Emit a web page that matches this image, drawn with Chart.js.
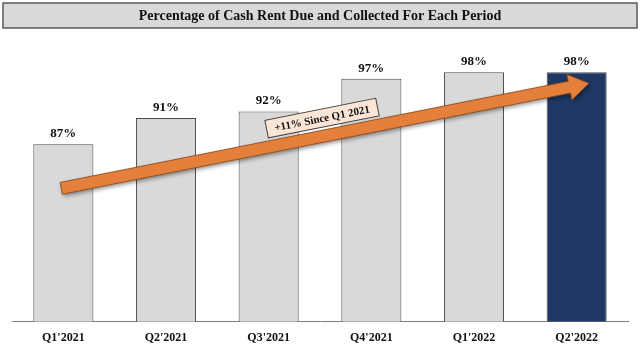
<!DOCTYPE html>
<html>
<head>
<meta charset="utf-8">
<script src="https://cdn.jsdelivr.net/npm/chart.js@4/dist/chart.umd.min.js"></script>
<style>
  html, body { margin: 0; padding: 0; background: #fff; }
  #wrap { width: 640px; height: 349px; position: relative; }
</style>
</head>
<body>
<div id="wrap"><canvas id="chart"></canvas></div>
<script>
const titleText = 'Percentage of Cash Rent Due and Collected For Each Period';
const periods = ["Q1'2021", "Q2'2021", "Q3'2021", "Q4'2021", "Q1'2022", "Q2'2022"];
const collected = [87, 91, 92, 97, 98, 98];
const barColors = ['#d9d9d9', '#d9d9d9', '#d9d9d9', '#d9d9d9', '#d9d9d9', '#1f3864'];

// trend arrow: [category index, value] for tail and tip
const arrowFrom = [-0.02, 80.3];
const arrowTo = [5.12, 96.3];
const arrowText = '+11% Since Q1 2021';
const arrowTextAt = [2.52, 91];

const serif = '"Liberation Serif", "DejaVu Serif", serif';

const titleBox = {
  id: 'titleBox',
  beforeDraw (chart) {
    const ctx = chart.ctx;
    ctx.save();
    ctx.fillStyle = '#d9d9d9';
    ctx.fillRect(3, 3, 634, 25);
    ctx.strokeStyle = '#595959';
    ctx.lineWidth = 1.5;
    ctx.strokeRect(3, 3, 634, 25);
    ctx.fillStyle = '#111';
    ctx.font = 'bold 14px ' + serif;
    ctx.textAlign = 'center';
    ctx.textBaseline = 'middle';
    ctx.fillText(titleText, 320, 16);
    ctx.restore();
  }
};

const barLabels = {
  id: 'barLabels',
  afterDatasetsDraw (chart) {
    const ctx = chart.ctx;
    const meta = chart.getDatasetMeta(0);
    ctx.save();
    ctx.fillStyle = '#111';
    ctx.font = 'bold 13px ' + serif;
    ctx.textAlign = 'center';
    ctx.textBaseline = 'bottom';
    meta.data.forEach((bar, i) => {
      ctx.fillText(collected[i] + '%', bar.x, bar.y - 4);
    });
    ctx.restore();
  }
};

const trendArrow = {
  id: 'trendArrow',
  afterDatasetsDraw (chart) {
    const ctx = chart.ctx;
    const xs = chart.scales.x, ys = chart.scales.y;
    const x1 = xs.getPixelForValue(arrowFrom[0]), y1 = ys.getPixelForValue(arrowFrom[1]);
    const x2 = xs.getPixelForValue(arrowTo[0]), y2 = ys.getPixelForValue(arrowTo[1]);
    const ang = Math.atan2(y2 - y1, x2 - x1);
    const len = Math.hypot(x2 - x1, y2 - y1);
    const shaft = 6, head = 13, headLen = 20;

    ctx.save();
    ctx.translate(x1, y1);
    ctx.rotate(ang);
    ctx.beginPath();
    ctx.moveTo(0, -shaft);
    ctx.lineTo(len - headLen, -shaft);
    ctx.lineTo(len - headLen, -head);
    ctx.lineTo(len, 0);
    ctx.lineTo(len - headLen, head);
    ctx.lineTo(len - headLen, shaft);
    ctx.lineTo(0, shaft);
    ctx.closePath();
    ctx.shadowColor = 'rgba(0,0,0,0.45)';
    ctx.shadowBlur = 4;
    ctx.shadowOffsetX = 1.5;
    ctx.shadowOffsetY = 2;
    ctx.fillStyle = '#e47f3c';
    ctx.fill();
    ctx.shadowColor = 'transparent';
    ctx.strokeStyle = '#8a4a1c';
    ctx.lineWidth = 0.8;
    ctx.stroke();
    ctx.restore();

    // text box along the arrow
    const cx = xs.getPixelForValue(arrowTextAt[0]), cy = ys.getPixelForValue(arrowTextAt[1]);
    ctx.save();
    ctx.translate(cx, cy);
    ctx.rotate(ang);
    ctx.font = 'bold 11px ' + serif;
    const w = ctx.measureText(arrowText).width + 16, h = 18;
    ctx.fillStyle = '#fbe5d6';
    ctx.fillRect(-w / 2, -h / 2, w, h);
    ctx.strokeStyle = '#404040';
    ctx.lineWidth = 1;
    ctx.strokeRect(-w / 2, -h / 2, w, h);
    ctx.fillStyle = '#111';
    ctx.textAlign = 'center';
    ctx.textBaseline = 'middle';
    ctx.fillText(arrowText, 0, 1);
    ctx.restore();
  }
};

new Chart(document.getElementById('chart'), {
  type: 'bar',
  data: {
    labels: periods,
    datasets: [{
      data: collected,
      backgroundColor: barColors,
      borderColor: '#4d4d4d',
      borderWidth: 1,
      categoryPercentage: 1,
      barPercentage: 0.585
    }]
  },
  options: {
    responsive: true,
    maintainAspectRatio: false,
    animation: false,
    layout: { padding: { left: 12, right: 12, top: 59, bottom: 3 } },
    plugins: {
      legend: { display: false },
      tooltip: { enabled: false }
    },
    scales: {
      x: {
        grid: { display: false },
        border: { color: '#7f7f7f', width: 1 },
        ticks: {
          color: '#111',
          padding: 1,
          font: { family: serif, weight: 'bold', size: 12 }
        }
      },
      y: {
        display: false,
        min: 60,
        max: 100
      }
    }
  },
  plugins: [titleBox, barLabels, trendArrow]
});
</script>
</body>
</html>
